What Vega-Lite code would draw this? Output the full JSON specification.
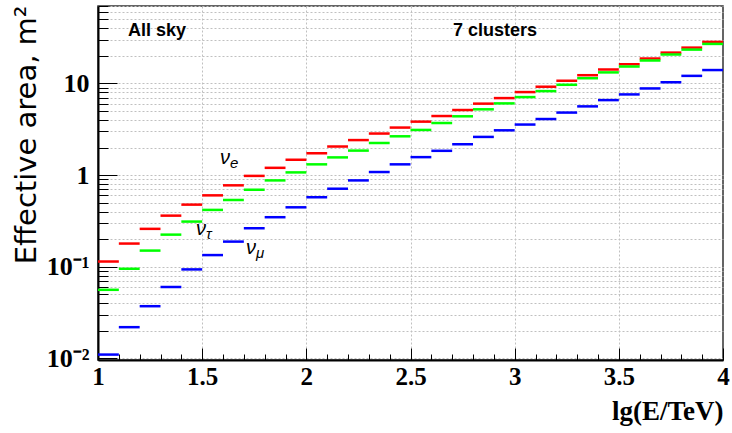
{
  "$schema": "https://vega.github.io/schema/vega-lite/v6.json",
  "width": 625,
  "height": 354,
  "autosize": {"type": "none"},
  "padding": {"left": 98, "top": 6, "right": 9, "bottom": 73},
  "background": "white",
  "config": {"view": {"stroke": "#333333", "strokeWidth": 1.5}},
  "datasets": {
    "h": [
      {"s": "e", "lo": 1.0, "hi": 1.1, "v": 0.114},
      {"s": "e", "lo": 1.1, "hi": 1.2, "v": 0.179},
      {"s": "e", "lo": 1.2, "hi": 1.3, "v": 0.259},
      {"s": "e", "lo": 1.3, "hi": 1.4, "v": 0.361},
      {"s": "e", "lo": 1.4, "hi": 1.5, "v": 0.476},
      {"s": "e", "lo": 1.5, "hi": 1.6, "v": 0.601},
      {"s": "e", "lo": 1.6, "hi": 1.7, "v": 0.773},
      {"s": "e", "lo": 1.7, "hi": 1.8, "v": 0.98},
      {"s": "e", "lo": 1.8, "hi": 1.9, "v": 1.20},
      {"s": "e", "lo": 1.9, "hi": 2.0, "v": 1.47},
      {"s": "e", "lo": 2.0, "hi": 2.1, "v": 1.73},
      {"s": "e", "lo": 2.1, "hi": 2.2, "v": 2.05},
      {"s": "e", "lo": 2.2, "hi": 2.3, "v": 2.41},
      {"s": "e", "lo": 2.3, "hi": 2.4, "v": 2.84},
      {"s": "e", "lo": 2.4, "hi": 2.5, "v": 3.30},
      {"s": "e", "lo": 2.5, "hi": 2.6, "v": 3.83},
      {"s": "e", "lo": 2.6, "hi": 2.7, "v": 4.41},
      {"s": "e", "lo": 2.7, "hi": 2.8, "v": 5.13},
      {"s": "e", "lo": 2.8, "hi": 2.9, "v": 6.02},
      {"s": "e", "lo": 2.9, "hi": 3.0, "v": 6.92},
      {"s": "e", "lo": 3.0, "hi": 3.1, "v": 8.05},
      {"s": "e", "lo": 3.1, "hi": 3.2, "v": 9.21},
      {"s": "e", "lo": 3.2, "hi": 3.3, "v": 10.7},
      {"s": "e", "lo": 3.3, "hi": 3.4, "v": 12.3},
      {"s": "e", "lo": 3.4, "hi": 3.5, "v": 14.2},
      {"s": "e", "lo": 3.5, "hi": 3.6, "v": 16.2},
      {"s": "e", "lo": 3.6, "hi": 3.7, "v": 18.7},
      {"s": "e", "lo": 3.7, "hi": 3.8, "v": 21.7},
      {"s": "e", "lo": 3.8, "hi": 3.9, "v": 24.6},
      {"s": "e", "lo": 3.9, "hi": 4.0, "v": 28.4},
      {"s": "tau", "lo": 1.0, "hi": 1.1, "v": 0.056},
      {"s": "tau", "lo": 1.1, "hi": 1.2, "v": 0.095},
      {"s": "tau", "lo": 1.2, "hi": 1.3, "v": 0.150},
      {"s": "tau", "lo": 1.3, "hi": 1.4, "v": 0.224},
      {"s": "tau", "lo": 1.4, "hi": 1.5, "v": 0.311},
      {"s": "tau", "lo": 1.5, "hi": 1.6, "v": 0.417},
      {"s": "tau", "lo": 1.6, "hi": 1.7, "v": 0.535},
      {"s": "tau", "lo": 1.7, "hi": 1.8, "v": 0.692},
      {"s": "tau", "lo": 1.8, "hi": 1.9, "v": 0.875},
      {"s": "tau", "lo": 1.9, "hi": 2.0, "v": 1.07},
      {"s": "tau", "lo": 2.0, "hi": 2.1, "v": 1.31},
      {"s": "tau", "lo": 2.1, "hi": 2.2, "v": 1.56},
      {"s": "tau", "lo": 2.2, "hi": 2.3, "v": 1.85},
      {"s": "tau", "lo": 2.3, "hi": 2.4, "v": 2.24},
      {"s": "tau", "lo": 2.4, "hi": 2.5, "v": 2.65},
      {"s": "tau", "lo": 2.5, "hi": 2.6, "v": 3.11},
      {"s": "tau", "lo": 2.6, "hi": 2.7, "v": 3.70},
      {"s": "tau", "lo": 2.7, "hi": 2.8, "v": 4.38},
      {"s": "tau", "lo": 2.8, "hi": 2.9, "v": 5.22},
      {"s": "tau", "lo": 2.9, "hi": 3.0, "v": 6.06},
      {"s": "tau", "lo": 3.0, "hi": 3.1, "v": 7.10},
      {"s": "tau", "lo": 3.1, "hi": 3.2, "v": 8.25},
      {"s": "tau", "lo": 3.2, "hi": 3.3, "v": 9.67},
      {"s": "tau", "lo": 3.3, "hi": 3.4, "v": 11.4},
      {"s": "tau", "lo": 3.4, "hi": 3.5, "v": 13.2},
      {"s": "tau", "lo": 3.5, "hi": 3.6, "v": 15.3},
      {"s": "tau", "lo": 3.6, "hi": 3.7, "v": 17.8},
      {"s": "tau", "lo": 3.7, "hi": 3.8, "v": 20.7},
      {"s": "tau", "lo": 3.8, "hi": 3.9, "v": 23.4},
      {"s": "tau", "lo": 3.9, "hi": 4.0, "v": 27.0},
      {"s": "mu", "lo": 1.0, "hi": 1.1, "v": 0.0110},
      {"s": "mu", "lo": 1.1, "hi": 1.2, "v": 0.0219},
      {"s": "mu", "lo": 1.2, "hi": 1.3, "v": 0.0371},
      {"s": "mu", "lo": 1.3, "hi": 1.4, "v": 0.0601},
      {"s": "mu", "lo": 1.4, "hi": 1.5, "v": 0.0935},
      {"s": "mu", "lo": 1.5, "hi": 1.6, "v": 0.134},
      {"s": "mu", "lo": 1.6, "hi": 1.7, "v": 0.188},
      {"s": "mu", "lo": 1.7, "hi": 1.8, "v": 0.263},
      {"s": "mu", "lo": 1.8, "hi": 1.9, "v": 0.347},
      {"s": "mu", "lo": 1.9, "hi": 2.0, "v": 0.445},
      {"s": "mu", "lo": 2.0, "hi": 2.1, "v": 0.573},
      {"s": "mu", "lo": 2.1, "hi": 2.2, "v": 0.710},
      {"s": "mu", "lo": 2.2, "hi": 2.3, "v": 0.875},
      {"s": "mu", "lo": 2.3, "hi": 2.4, "v": 1.08},
      {"s": "mu", "lo": 2.4, "hi": 2.5, "v": 1.31},
      {"s": "mu", "lo": 2.5, "hi": 2.6, "v": 1.57},
      {"s": "mu", "lo": 2.6, "hi": 2.7, "v": 1.84},
      {"s": "mu", "lo": 2.7, "hi": 2.8, "v": 2.17},
      {"s": "mu", "lo": 2.8, "hi": 2.9, "v": 2.61},
      {"s": "mu", "lo": 2.9, "hi": 3.0, "v": 3.08},
      {"s": "mu", "lo": 3.0, "hi": 3.1, "v": 3.56},
      {"s": "mu", "lo": 3.1, "hi": 3.2, "v": 4.09},
      {"s": "mu", "lo": 3.2, "hi": 3.3, "v": 4.81},
      {"s": "mu", "lo": 3.3, "hi": 3.4, "v": 5.62},
      {"s": "mu", "lo": 3.4, "hi": 3.5, "v": 6.58},
      {"s": "mu", "lo": 3.5, "hi": 3.6, "v": 7.59},
      {"s": "mu", "lo": 3.6, "hi": 3.7, "v": 8.82},
      {"s": "mu", "lo": 3.7, "hi": 3.8, "v": 10.3},
      {"s": "mu", "lo": 3.8, "hi": 3.9, "v": 12.1},
      {"s": "mu", "lo": 3.9, "hi": 4.0, "v": 14.0}
    ],
    "lab": [
      {"lo": 1.144, "v": 33, "t": "All sky"},
      {"lo": 2.704, "v": 33, "t": "7 clusters"}
    ],
    "nu": [
      {"lo": 1.586, "v": 1.31, "sub": "e"},
      {"lo": 1.470, "v": 0.224, "sub": "τ"},
      {"lo": 1.710, "v": 0.138, "sub": "μ"}
    ]
  },
  "encoding": {
    "x": {
      "field": "lo",
      "type": "quantitative",
      "scale": {"domain": [1, 4], "nice": false, "zero": false},
      "axis": {
        "values": [1.0, 1.1, 1.2, 1.3, 1.4, 1.5, 1.6, 1.7, 1.8, 1.9, 2.0, 2.1, 2.2, 2.3, 2.4, 2.5, 2.6, 2.7, 2.8, 2.9, 3.0, 3.1, 3.2, 3.3, 3.4, 3.5, 3.6, 3.7, 3.8, 3.9, 4.0],
        "title": "lg(E/TeV)",
        "titleFont": "Liberation Serif",
        "titleFontWeight": "bold",
        "titleFontSize": 27,
        "titleColor": "black",
        "titleAnchor": "end",
        "titleAlign": "right",
        "titleBaseline": "alphabetic",
        "titleX": 625,
        "titleY": 59,
        "labelExpr": "abs(datum.value*2 - round(datum.value*2)) < 0.001 ? format(datum.value, '.2~f') : ''",
        "labelFont": "Liberation Serif",
        "labelFontWeight": "bold",
        "labelFontSize": 25,
        "labelColor": "black",
        "labelPadding": 16,
        "labelFlush": false,
        "labelOverlap": false,
        "labelBound": false,
        "tickSize": {"condition": {"test": "abs(datum.value*2 - round(datum.value*2)) < 0.001", "value": -12}, "value": -6},
        "tickColor": "black",
        "tickWidth": 1,
        "domainColor": "black",
        "domainWidth": 2,
        "grid": true,
        "gridColor": {"condition": {"test": "abs(datum.value*2 - round(datum.value*2)) < 0.001 && datum.value > 1.01 && datum.value < 3.99", "value": "#c0c0c0"}, "value": "rgba(255,255,255,0)"},
        "gridDash": [2, 2],
        "gridWidth": 1
      }
    },
    "y": {
      "field": "v",
      "type": "quantitative",
      "scale": {"type": "log", "domain": [0.0096, 70], "nice": false},
      "axis": {
        "values": [0.01, 0.02, 0.03, 0.04, 0.05, 0.06, 0.07, 0.08, 0.09, 0.1, 0.2, 0.3, 0.4, 0.5, 0.6, 0.7, 0.8, 0.9, 1, 2, 3, 4, 5, 6, 7, 8, 9, 10, 20, 30, 40, 50, 60, 70],
        "title": "Effective area, m²",
        "titleFont": "DejaVu Sans",
        "titleFontSize": 29,
        "titleFontWeight": "normal",
        "titleColor": "black",
        "titleAngle": 270,
        "titleAnchor": "end",
        "titleAlign": "right",
        "titleBaseline": "alphabetic",
        "titleX": -63,
        "titleY": -1,
        "labelExpr": "abs(datum.value-0.01)<1e-9 ? '10⁻²' : abs(datum.value-0.1)<1e-9 ? '10⁻¹' : abs(datum.value-1)<1e-9 ? '1' : abs(datum.value-10)<1e-9 ? '10' : ''",
        "labelFont": "Liberation Serif",
        "labelFontWeight": "bold",
        "labelFontSize": 26,
        "labelColor": "black",
        "labelPadding": 28,
        "labelFlush": false,
        "labelOverlap": false,
        "labelBound": false,
        "tickSize": {"condition": {"test": "abs(log(datum.value)/LN10 - round(log(datum.value)/LN10)) < 0.001", "value": -19}, "value": -10},
        "tickColor": "black",
        "tickWidth": 1,
        "domainColor": "black",
        "domainWidth": 2,
        "grid": true,
        "gridColor": "#c0c0c0",
        "gridDash": [2, 2],
        "gridWidth": 1
      }
    }
  },
  "layer": [
    {
      "data": {"name": "h"},
      "mark": {"type": "rule", "strokeWidth": 2.5},
      "encoding": {
        "x2": {"field": "hi"},
        "color": {
          "field": "s",
          "type": "nominal",
          "scale": {"domain": ["e", "tau", "mu"], "range": ["#ff0000", "#00ff00", "#0000ff"]},
          "legend": null
        }
      }
    },
    {
      "data": {"name": "lab"},
      "mark": {"type": "text", "font": "Liberation Sans", "fontWeight": "bold", "fontSize": 18, "align": "left", "baseline": "alphabetic", "color": "black"},
      "encoding": {
        "text": {"field": "t"}
      }
    },
    {
      "data": {"name": "nu"},
      "mark": {"type": "text", "font": "Liberation Sans", "fontStyle": "italic", "fontSize": 20, "align": "left", "baseline": "alphabetic", "color": "black"},
      "encoding": {
        "text": {"value": "ν"}
      }
    },
    {
      "data": {"name": "nu"},
      "mark": {"type": "text", "font": "Liberation Sans", "fontStyle": "italic", "fontSize": 15, "align": "left", "baseline": "alphabetic", "color": "black", "dx": 10, "dy": 4},
      "encoding": {
        "text": {"field": "sub"}
      }
    }
  ]
}
